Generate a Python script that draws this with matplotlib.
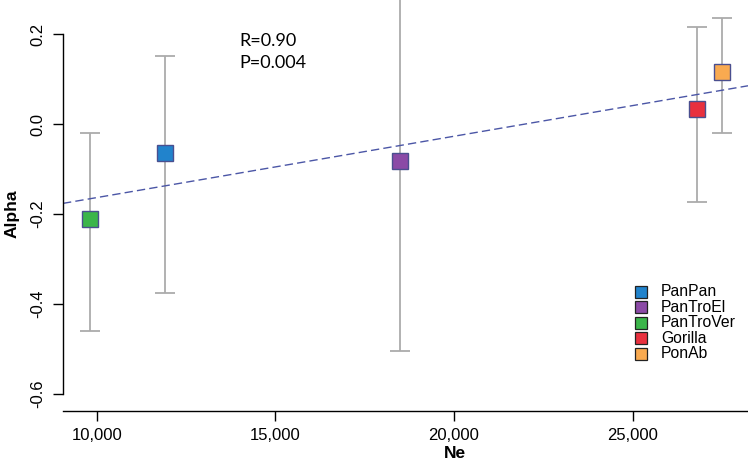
import numpy as np
import matplotlib
matplotlib.use("Agg")
import matplotlib.pyplot as plt
from matplotlib.lines import Line2D

plt.rcParams['font.family'] = ['Liberation Sans', 'DejaVu Sans']

# ---- data ----
species = ["PanPan", "PanTroEl", "PanTroVer", "Gorilla", "PonAb"]
ne = [11900, 18500, 9800, 26800, 27500]
alpha = [-0.065, -0.083, -0.211, 0.033, 0.115]
alpha_low = [-0.375, -0.504, -0.461, -0.173, -0.020]
alpha_high = [0.151, 0.277, -0.021, 0.216, 0.236]
colors = ["#2183CC", "#8B4AA6", "#3BB54A", "#E8303E", "#F9AA50"]
stats_text = ["R=0.90", "P=0.004"]
xticks = [10000, 15000, 20000, 25000]
yticks = [-0.6, -0.4, -0.2, 0.0, 0.2]

fig = plt.figure(figsize=(7.48, 4.65), dpi=100)
ax = fig.add_axes([63/748, 1 - 411/465, 685/748, 411/465])
ax.set_xlim(9057, 28228)
ax.set_ylim(-0.6378, 0.2756)

# regression line
coef = np.polyfit(ne, alpha, 1)
xl = np.array(ax.get_xlim())
ax.plot(xl, np.polyval(coef, xl), linestyle=(0, (6, 3)), color="#4B56A6",
        lw=1.0, zorder=2)

# error bars + points
for x, y, lo, hi, c in zip(ne, alpha, alpha_low, alpha_high, colors):
    ax.errorbar([x], [y], yerr=[[y - lo], [hi - y]], fmt='none',
                ecolor="#ABABAB", elinewidth=1.3, capsize=7.5, capthick=1.3,
                zorder=1)
    ax.plot([x], [y], marker='s', ms=11, mfc=c, mec="#4A4F8F", mew=1.0,
            linestyle='none', zorder=3)

# axes styling (R-like)
for s in ['top', 'right']:
    ax.spines[s].set_visible(False)
ax.spines['left'].set_bounds(-0.6, 0.2)
ax.spines['left'].set_linewidth(1.0)
ax.spines['bottom'].set_linewidth(1.0)
ax.set_xticks(xticks)
ax.set_xticklabels([f"{v:,}" for v in xticks], fontsize=12)
ax.set_yticks(yticks)
ax.set_yticklabels([f"{v:.1f}" for v in yticks], fontsize=12, rotation=90,
                   va='center')
ax.tick_params(axis='both', length=7, width=1.0)
ax.tick_params(axis='x', pad=5)
ax.tick_params(axis='y', pad=6)

fig.text(12/748, 1 - 214/465, "Alpha", rotation=90, fontsize=12.5,
         fontweight='bold', ha='center', va='center')
fig.text(455/748, 1 - 453/465, "Ne", fontsize=12.5, fontweight='bold',
         ha='center', va='center')

# stats annotation
fig.text(239/748, 1 - 41/465, stats_text[0], fontsize=13, family=['Lato', 'DejaVu Sans'],
         ha='left', va='center')
fig.text(239/748, 1 - 63/465, stats_text[1], fontsize=13, family=['Lato', 'DejaVu Sans'],
         ha='left', va='center')

# legend (manual, R style)
ys = [291.7, 307.2, 322.7, 338.2, 353.7]
for name, c, yy in zip(species, colors, ys):
    fig.add_artist(Line2D([641/748], [1 - yy/465], marker='s', ms=8.5,
                          mfc=c, mec="#222222", mew=0.9, linestyle='none',
                          transform=fig.transFigure))
    fig.text(661/748, 1 - yy/465, name, fontsize=11.3, ha='left', va='center')

fig.savefig("out.png", dpi=100)
